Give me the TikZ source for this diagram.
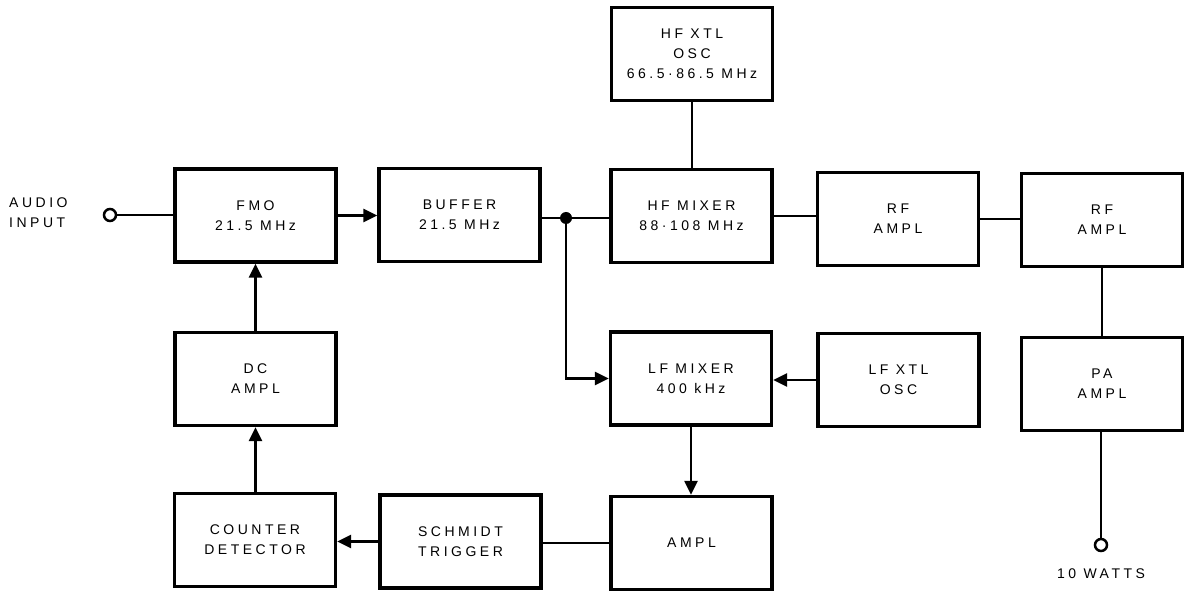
\documentclass[tikz,border=0pt]{standalone}
\usepackage{fontspec}
\newfontfamily\blockfont{Liberation Sans}[LetterSpace=25]
\usetikzlibrary{arrows.meta}

\begin{document}
\begin{tikzpicture}[x=1pt,y=-1pt,
  txt/.style={font=\blockfont\fontsize{14}{20}\selectfont, align=center, inner sep=0pt},
  block/.style={txt, draw, line width=3.3pt, minimum width=161pt, minimum height=93pt},
  wire/.style={line width=2.3pt},
  arr/.style={wire, -{Triangle[length=14pt,width=13pt]}},
  term/.style={circle, draw, line width=2.5pt, fill=white, minimum size=12pt, inner sep=0pt},
  junction/.style={circle, fill, minimum size=12pt, inner sep=0pt}]
\useasboundingbox (0,0) rectangle (1184,593);

% upper signal chain
\node[block] (fmo)   at (255.5,215.5) {FMO\\21.5 MHz};
\node[block] (buf)   at (459.5,215)   {BUFFER\\21.5 MHz};
\node[block] (hfmix) at (691.5,216)   {HF MIXER\\88·108 MHz};
\node[block] (hfxtl) at (692,54)      {HF XTL\\OSC\\66.5·86.5 MHz};
\node[block] (rf1)   at (898,219)     {RF\\AMPL};
\node[block] (rf2)   at (1102,220)    {RF\\AMPL};
\node[block] (pa)    at (1102,384)    {PA\\AMPL};

% frequency control loop
\node[block] (lfmix) at (691,378.5)   {LF MIXER\\400 kHz};
\node[block] (lfxtl) at (898.5,380)   {LF XTL\\OSC};
\node[block] (ampl)  at (691.5,543)   {AMPL};
\node[block] (sch)   at (460.5,541.5) {SCHMIDT\\TRIGGER};
\node[block] (cnt)   at (255,540)     {COUNTER\\DETECTOR};
\node[block] (dc)    at (255.5,379)   {DC\\AMPL};

% input and output terminals
\node[term] (in)  at (110,215) {};
\node[txt, anchor=west, align=left] (inlbl) at (9,213) {AUDIO\\INPUT};
\node[term] (out) at (1101,545) {};
\node[txt] (outlbl) at (1101,574) {10 WATTS};

\node[junction] (j) at (566,218) {};

% connections
\draw[wire] (in) -- (fmo.west |- in);
\draw[arr] (fmo.east) -- (buf.west |- fmo.east);
\draw[wire] (buf.east |- j) -- (j) -- (hfmix.west |- j);
\draw[arr] (j) |- (lfmix.west);
\draw[wire] (hfxtl.south) -- (hfmix.north -| hfxtl.south);
\draw[wire] (hfmix.east) -- (rf1.west |- hfmix.east);
\draw[wire] (rf1.east) -- (rf2.west |- rf1.east);
\draw[wire] (rf2.south) -- (pa.north);
\draw[wire] (pa.south -| out) -- (out);
\draw[arr] (lfxtl.west) -- (lfmix.east |- lfxtl.west);
\draw[arr] (lfmix.south) -- (ampl.north -| lfmix.south);
\draw[wire] (ampl.west) -- (sch.east |- ampl.west);
\draw[arr] (sch.west) -- (cnt.east |- sch.west);
\draw[arr] (cnt.north -| dc.south) -- (dc.south);
\draw[arr] (dc.north) -- (fmo.south -| dc.north);
\end{tikzpicture}
\end{document}
